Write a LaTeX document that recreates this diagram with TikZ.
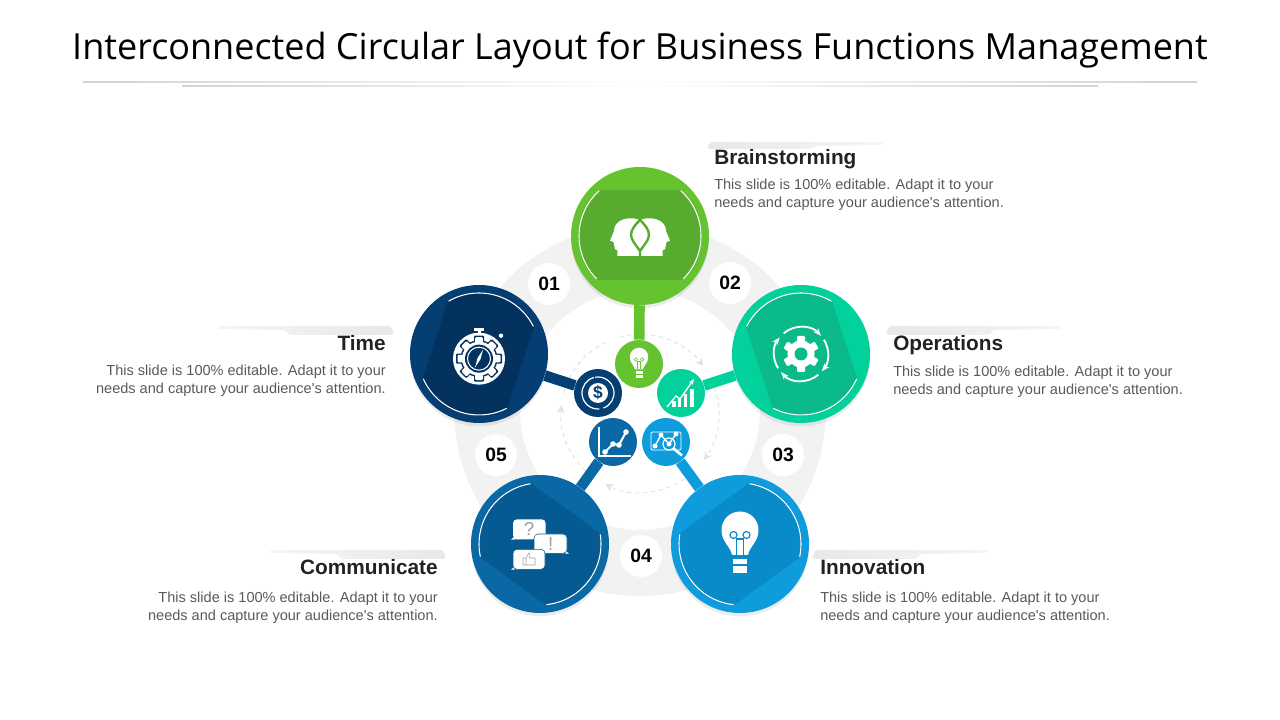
\documentclass[tikz,border=0pt]{standalone}
\usepackage{fontspec}
\setmainfont{Liberation Sans}[Ligatures=TeXOff]
\newfontfamily\titlefont{Open Sans}
\usetikzlibrary{positioning, arrows.meta, calc, shadows}

\definecolor{brainlite}{HTML}{66C330}
\definecolor{braindark}{HTML}{57AB2F}
\definecolor{operlite}{HTML}{03D19C}
\definecolor{operdark}{HTML}{0ABA8B}
\definecolor{innovlite}{HTML}{0E9CDD}
\definecolor{innovdark}{HTML}{0A8BC9}
\definecolor{commlite}{HTML}{0A69A5}
\definecolor{commdark}{HTML}{065A92}
\definecolor{timelite}{HTML}{053E72}
\definecolor{timedark}{HTML}{03325F}
\definecolor{ringgray}{HTML}{F2F2F2}
\definecolor{headink}{HTML}{222222}
\definecolor{bodyink}{HTML}{595959}

\tikzset{
  bigdisc/.style={circle, minimum size=103.5pt, inner sep=0pt, fill=#1,
    drop shadow={shadow xshift=0pt, shadow yshift=-2.5pt, opacity=0.15}},
  smalldisc/.style={circle, minimum size=36pt, inner sep=0pt, fill=#1},
  stem/.style={line width=8pt, draw=#1},
  numdisc/.style={circle, fill=white, minimum size=31.5pt, inner sep=0pt, font=\fontsize{14.5}{16}\selectfont\bfseries, text=black},
  headtxt/.style={inner sep=0pt, text height=11pt, text depth=3pt, font=\fontsize{15.6}{18}\selectfont\bfseries, text=headink},
  bodytxt/.style={inner sep=0pt, font=\fontsize{10.9}{13.5}\selectfont, text=bodyink},
  loopline/.style={draw=ringgray!93!black, line width=0.7pt, dashed}
}

% darker band and white arcs of a big disc
\newcommand{\discband}[3]{
  \begin{scope}[shift={(#1.center)}, rotate=#2]
    \clip (0,0) circle (62);
    \fill[#3] (-70,-44) rectangle (70,46);
  \end{scope}
  \begin{scope}[shift={(#1.center)}, rotate=#2]
    \draw[white, line width=0.8pt] (48:61) arc[start angle=48, end angle=-45, radius=61];
    \draw[white, line width=0.8pt] (132:61) arc[start angle=132, end angle=225, radius=61];
  \end{scope}
}
\newcommand{\gearshape}[5]{
  \foreach \a in {#5} {\fill[#4, rotate=\a, rounded corners=0.8pt] (-#3,0) rectangle (#3,#1);}
  \fill[#4] (0,0) circle (#2);
}
\newcommand{\bulbicon}[2]{
  \fill[white] (-8,-11) .. controls (-9,-3) and (-18.5,2) .. (-18.5,14) arc[start angle=180, end angle=0, radius=18.5] .. controls (18.5,2) and (9,-3) .. (8,-11) -- cycle;
  \fill[white] (-7,-15) rectangle (7,-20);
  \fill[white] (-7,-22) rectangle (7,-29);
  \draw[#1, line width=#2] (-3.5,-11) -- (-3.5,6) (3.5,-11) -- (3.5,6) (-3.5,5) -- (3.5,5);
  \draw[#1, line width=#2] (-6.5,9) circle (3.5) (6.5,9) circle (3.5);
}
\newcommand{\headhalf}{
  \fill[white] (-10,17.7) .. controls (-18,17.7) and (-26,13) .. (-26,5) -- (-30,-4.7) -- (-26.5,-6) -- (-25.5,-10.7) .. controls (-25.5,-14) and (-24,-14) .. (-22.7,-14) -- (-22.7,-20) -- (0,-20) -- (0,15) .. controls (-3,17.7) and (-6,17.7) .. (-10,17.7) -- cycle;
}

\begin{document}
\begin{tikzpicture}[>=Stealth, x=0.75pt, y=0.75pt]
    \useasboundingbox (0,0) rectangle (1280,720);

    % Title and rules
    \node (Title) [inner sep=0pt, font=\titlefont\fontsize{27}{30}\selectfont, text=black] at (640,670) {Interconnected Circular Layout for Business Functions Management};
    \shade[left color=gray!35, right color=white] (83,637.6) rectangle (640,638.4);
    \shade[left color=white, right color=gray!35] (640,637.6) rectangle (1197,638.4);
    \shade[left color=gray!35, right color=white] (182,633.6) rectangle (640,634.4);
    \shade[left color=white, right color=gray!35] (640,633.6) rectangle (1098,634.4);

    % Ring and dashed loop
    \coordinate (RingMid) at (640,310);
    \coordinate (LoopMid) at (640,306.5);
    \fill[ringgray, even odd rule] (RingMid) circle (186) (RingMid) circle (120);
    \draw[loopline, -{Stealth[length=6pt, width=6pt]}] ([shift={(105:79)}]LoopMid) arc[start angle=105, end angle=37, radius=79];
    \draw[loopline, -{Stealth[length=6pt, width=6pt]}] ([shift={(25:79)}]LoopMid) arc[start angle=25, end angle=-36, radius=79];
    \draw[loopline, -{Stealth[length=6pt, width=6pt]}] ([shift={(-50:79)}]LoopMid) arc[start angle=-50, end angle=-116, radius=79];
    \draw[loopline, -{Stealth[length=6pt, width=6pt]}] ([shift={(-128:79)}]LoopMid) arc[start angle=-128, end angle=-186, radius=79];
    \draw[loopline] ([shift={(165:79)}]LoopMid) arc[start angle=165, end angle=115, radius=79];

    % Number badges
    \node (NumOne) [numdisc] at (549,436) {01};
    \node (NumTwo) [numdisc] at (730,437) {02};
    \node (NumThree) [numdisc] at (783,265) {03};
    \node (NumFour) [numdisc] at (641,164) {04};
    \node (NumFive) [numdisc] at (496,265) {05};

    % Big discs
    \node (Brain) [bigdisc=brainlite] at (640,484) {};
    \node (Oper) [bigdisc=operlite] at (801,366) {};
    \node (Innov) [bigdisc=innovlite] at (740,176) {};
    \node (Comm) [bigdisc=commlite] at (540,176) {};
    \node (Time) [bigdisc=timelite] at (479,366) {};
    \discband{Brain}{0}{braindark}
    \discband{Oper}{-72}{operdark}
    \discband{Innov}{-144}{innovdark}
    \discband{Comm}{144}{commdark}
    \discband{Time}{72}{timedark}

    % Small discs
    \node (BrainDot) [smalldisc=brainlite] at (639,356) {};
    \node (OperDot) [smalldisc=operlite] at (681,327) {};
    \node (InnovDot) [smalldisc=innovlite] at (666,278) {};
    \node (CommDot) [smalldisc=commlite] at (613,278) {};
    \node (TimeDot) [smalldisc=timelite] at (598,327) {};

    % Stems
    \draw[stem=brainlite] (Brain) -- (BrainDot);
    \draw[stem=operlite] (Oper) -- (OperDot);
    \draw[stem=innovlite] (Innov) -- (InnovDot);
    \draw[stem=commlite] (Comm) -- (CommDot);
    \draw[stem=timelite] (Time) -- (TimeDot);

    % Two heads
    \begin{scope}[shift={(Brain.center)}]
      \headhalf
      \begin{scope}[xscale=-1]
        \headhalf
      \end{scope}
      \draw[braindark, line width=1.8pt] (0,-20) -- (0,-15) .. controls (-4,-9) and (-9,-4) .. (-9,1) .. controls (-9,7) and (-4,12) .. (0,16) .. controls (4,12) and (9,7) .. (9,1) .. controls (9,-4) and (4,-9) .. (0,-15);
    \end{scope}

    % Gear with round arrows
    \begin{scope}[shift={(Oper.center)}]
      \gearshape{18}{13.5}{4}{white}{0,60,...,300}
      \fill[operdark] (0,0) circle (6.5);
      \draw[white, line width=1.4pt, -{Stealth[length=6pt]}] (130:27) arc[start angle=130, end angle=42, radius=27];
      \draw[white, line width=1.4pt, -{Stealth[length=6pt]}] (32:27) arc[start angle=32, end angle=-40, radius=27];
      \draw[white, line width=1.4pt, -{Stealth[length=6pt]}] (-50:27) arc[start angle=-50, end angle=-138, radius=27];
      \draw[white, line width=1.4pt, -{Stealth[length=6pt]}] (-148:27) arc[start angle=-148, end angle=-218, radius=27];
    \end{scope}

    % Bulbs
    \begin{scope}[shift={(Innov.center)}]
      \bulbicon{innovdark}{0.9pt}
    \end{scope}
    \begin{scope}[shift={(BrainDot.center)}, scale=0.5]
      \bulbicon{brainlite}{0.5pt}
    \end{scope}

    % Chat bubbles
    \begin{scope}[shift={(Comm.center)}]
      \fill[white] (-26,7) -- (-29,4.2) -- (-21,5) -- cycle;
      \fill[white, rounded corners=3pt] (-27,4.7) rectangle (5.7,24.7);
      \fill[white] (26,-7) -- (29,-9.8) -- (21,-9) -- cycle;
      \filldraw[white, draw=commdark, line width=0.4pt, rounded corners=3pt] (-6,-9.3) rectangle (27,10);
      \fill[white] (-26,-23) -- (-29,-25.8) -- (-21,-25) -- cycle;
      \filldraw[white, draw=commdark, line width=0.4pt, rounded corners=3pt] (-27,-25.3) rectangle (5,-5.3);
      \node (AskMark) [inner sep=0pt, font=\fontsize{14}{14}\selectfont, text=gray!75] at (-11,14.7) {?};
      \node (BangMark) [inner sep=0pt, font=\fontsize{14}{14}\selectfont, text=gray!75] at (10.7,0) {!};
      \draw[gray!75, line width=0.4pt, line join=round] (-17,-21) -- (-17,-14) -- (-14,-14) -- (-11,-9) -- (-10,-10) -- (-10.5,-14) -- (-5,-14) -- (-5,-21) -- cycle (-14,-14) -- (-14,-21);
    \end{scope}

    % Stopwatch gear
    \begin{scope}[shift={(Time.center)}, yshift=-3.5pt]
      \fill[white] (0,0) circle (26);
      \gearshape{23}{18.5}{5}{timedark}{0,45,...,315}
      \gearshape{21.5}{17}{3.8}{white}{0,45,...,315}
      \fill[timedark] (0,0) circle (14);
      \draw[white, line width=0.8pt] (0,0) circle (11.5);
      \fill[white] (-5,28) rectangle (5,31);
      \fill[white] (-1.5,25) rectangle (1.5,29);
      \fill[white] (22,23) circle (2.2);
      \fill[white] (4,9) -- (1.5,-0.5) -- (-4,-9) -- (-1.5,0.5) -- cycle;
    \end{scope}

    % Dollar coin
    \begin{scope}[shift={(TimeDot.center)}]
      \fill[white] (0,0) circle (10);
      \node (DollarSign) [inner sep=0pt, font=\fontsize{13}{14}\selectfont\bfseries, text=timelite] at (0,0) {\$};
      \draw[white, line width=0.9pt] (100:16) arc[start angle=100, end angle=-70, radius=16];
      \draw[white, line width=0.9pt] (-85:16) arc[start angle=-85, end angle=-255, radius=16];
    \end{scope}

    % Rising bars
    \begin{scope}[shift={(OperDot.center)}]
      \fill[white] (-9,-14) rectangle (-5.5,-8);
      \fill[white] (-3.5,-14) rectangle (0,-5);
      \fill[white] (2.5,-14) rectangle (6,-1);
      \fill[white] (8.5,-14) rectangle (12.5,4);
      \draw[white, line width=1pt, -{Stealth[length=4.5pt]}] (-14,-14) -- (-5,-3) -- (-1,-6) -- (13,14);
    \end{scope}

    % Chart with axes
    \begin{scope}[shift={(CommDot.center)}]
      \draw[white, line width=1.5pt] (-14,15) -- (-14,-14.5) -- (18,-14.5);
      \draw[white, line width=1.5pt] (-8,-10) -- (0,-2) -- (6,-3) -- (13,10);
      \fill[white] (-8,-10) circle (2.8) (0,-2) circle (2.8) (6,-3) circle (2.8) (13,10) circle (2.8);
    \end{scope}

    % Chart with lens
    \begin{scope}[shift={(InnovDot.center)}]
      \draw[white, line width=0.7pt, rounded corners=1pt] (-15,-8) rectangle (15,10);
      \draw[white, line width=1pt] (-11,-4) -- (-5,7) -- (3,-2) -- (10,8);
      \fill[white] (-11,-4) circle (2.5) (-5,7) circle (2.5) (3,-2) circle (2.5) (10,8) circle (2.5);
      \draw[white, line width=0.9pt] (3,-2) circle (6);
      \draw[white, line width=2pt] (7.5,-6.5) -- (16,-13.5);
    \end{scope}

    % Bars over the headings
    \shade[left color=gray!18, right color=gray!8, rounded corners=2pt] (707,571) -- (710,578) -- (883,578) -- (883,575) -- (815,574) -- (812,571) -- cycle;
    \shade[left color=gray!18, right color=gray!8, rounded corners=2pt] (886,385) -- (889,394) -- (1061,394) -- (1061,391) -- (993,390) -- (990,385) -- cycle;
    \shade[left color=gray!18, right color=gray!8, rounded corners=2pt] (812,161) -- (815,170) -- (988,170) -- (988,167) -- (920,166) -- (917,161) -- cycle;
    \shade[left color=gray!8, right color=gray!18, rounded corners=2pt] (394,385) -- (391,394) -- (218,394) -- (218,391) -- (286,390) -- (289,385) -- cycle;
    \shade[left color=gray!8, right color=gray!18, rounded corners=2pt] (446,161) -- (443,170) -- (270,170) -- (270,167) -- (338,166) -- (341,161) -- cycle;

    % Texts
    \node (BrainHead) [headtxt, anchor=west] at (714,561) {Brainstorming};
    \node (BrainText) [bodytxt, below right=7.3pt and 0pt of BrainHead.south west, align=left] {This slide is 100\% editable.  Adapt it to your\\needs and capture your audience's attention.};
    \node (OperHead) [headtxt, anchor=west] at (893,375) {Operations};
    \node (OperText) [bodytxt, below right=8pt and 0pt of OperHead.south west, align=left] {This slide is 100\% editable.  Adapt it to your\\needs and capture your audience's attention.};
    \node (InnovHead) [headtxt, anchor=west] at (820,151) {Innovation};
    \node (InnovText) [bodytxt, below right=9.5pt and 0pt of InnovHead.south west, align=left] {This slide is 100\% editable.  Adapt it to your\\needs and capture your audience's attention.};
    \node (CommHead) [headtxt, anchor=east] at (438,151) {Communicate};
    \node (CommText) [bodytxt, below left=9.5pt and 0pt of CommHead.south east, align=right] {This slide is 100\% editable.  Adapt it to your\\needs and capture your audience's attention.};
    \node (TimeHead) [headtxt, anchor=east] at (386,375) {Time};
    \node (TimeText) [bodytxt, below left=7.3pt and 0pt of TimeHead.south east, align=right] {This slide is 100\% editable.  Adapt it to your\\needs and capture your audience's attention.};
\end{tikzpicture}
\end{document}
